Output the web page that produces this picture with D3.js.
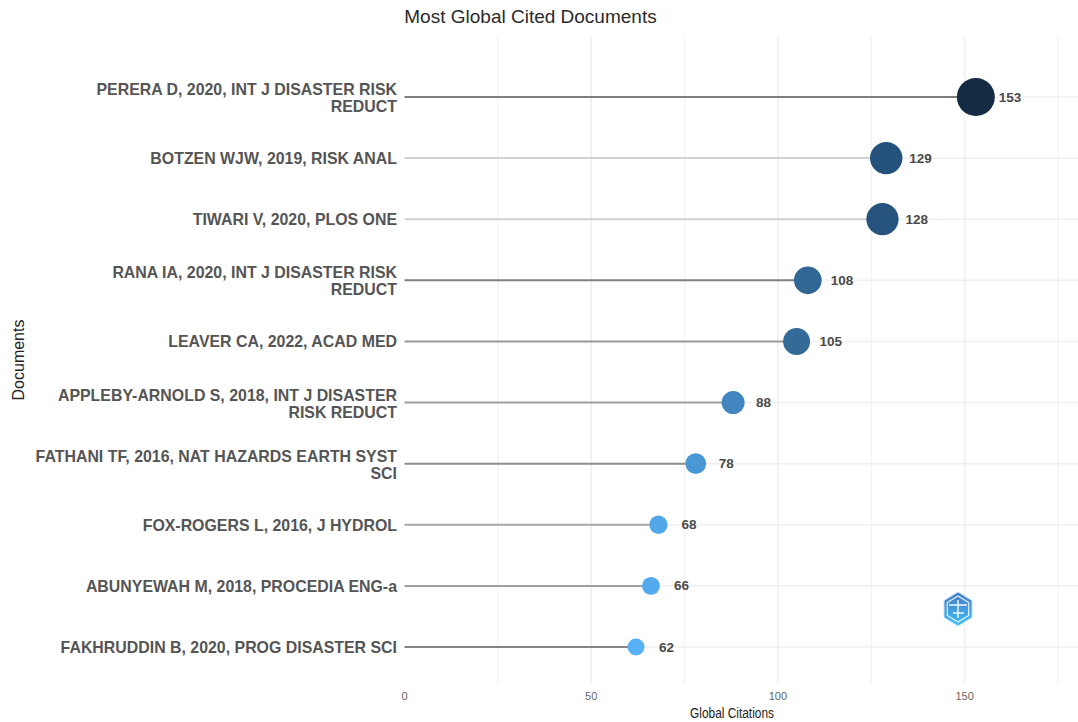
<!DOCTYPE html>
<html><head><meta charset="utf-8">
<script src="https://cdnjs.cloudflare.com/ajax/libs/d3/7.8.5/d3.min.js"></script>
<style>html,body{margin:0;padding:0;background:#fff}svg{display:block}text{font-family:"Liberation Sans",Arial,sans-serif}</style>
</head><body><svg id="c" width="1078" height="722"></svg>
<script>
const documents=[["PERERA D, 2020, INT J DISASTER RISK","REDUCT"],["BOTZEN WJW, 2019, RISK ANAL"],["TIWARI V, 2020, PLOS ONE"],["RANA IA, 2020, INT J DISASTER RISK","REDUCT"],["LEAVER CA, 2022, ACAD MED"],["APPLEBY-ARNOLD S, 2018, INT J DISASTER","RISK REDUCT"],["FATHANI TF, 2016, NAT HAZARDS EARTH SYST","SCI"],["FOX-ROGERS L, 2016, J HYDROL"],["ABUNYEWAH M, 2018, PROCEDIA ENG-a"],["FAKHRUDDIN B, 2020, PROG DISASTER SCI"]];
const citations=[153,129,128,108,105,88,78,68,66,62];
const xTicks=[0,50,100,150];
const xMinor=[25,75,125,175];
const svg=d3.select("#c");
const x=d3.scaleLinear().domain([0,175]).range([404.5,1058]);
const y=d3.scalePoint().domain(d3.range(documents.length)).range([97,647]);
const r=d3.scaleLinear().domain([62,153]).range([8.5,19]);
const col=d3.scaleLinear().domain([62,105,129,153]).range(["#56b1f7","#336a98","#24527c","#132b43"]);
const stemCol=["#7f7f7f","#d2d2d2","#d2d2d2","#808080","#9a9a9a","#a0a0a0","#8f8f8f","#a8a8a8","#a0a0a0","#858585"];
const gTop=36,gBot=683;
svg.selectAll(".gx").data(xTicks.slice(1).concat(xMinor)).join("line").attr("x1",d=>x(d)).attr("x2",d=>x(d)).attr("y1",gTop).attr("y2",gBot).attr("stroke","#f0f0f0").attr("stroke-width",d=>xMinor.includes(d)?1:1.6);
svg.selectAll(".gy").data(citations).join("line").attr("x1",405).attr("x2",1078).attr("y1",(d,i)=>y(i)).attr("y2",(d,i)=>y(i)).attr("stroke","#f0f0f0").attr("stroke-width",1.6);
svg.selectAll(".stem").data(citations).join("line").attr("x1",x(0)).attr("x2",d=>x(d)).attr("y1",(d,i)=>y(i)).attr("y2",(d,i)=>y(i)).attr("stroke",(d,i)=>stemCol[i]).attr("stroke-width",2);
svg.selectAll(".dot").data(citations).join("circle").attr("cx",d=>x(d)).attr("cy",(d,i)=>y(i)).attr("r",d=>r(d)).attr("fill",d=>col(d));
svg.selectAll(".val").data(citations).join("text").attr("x",d=>x(d)+23).attr("y",(d,i)=>y(i)+4.5).attr("font-size",13.5).attr("font-weight","bold").attr("fill","#4a4a4a").text(d=>d);
documents.forEach((lines,i)=>{
  const t=svg.append("text").attr("text-anchor","end").attr("font-size",15.9).attr("font-weight","bold").attr("fill","#555");
  const y0=y(i)+(lines.length>1?-2:6);
  lines.forEach((l,j)=>t.append("tspan").attr("x",397).attr("y",y0+j*17).text(l));
});
svg.selectAll(".tick").data(xTicks).join("text").attr("x",d=>x(d)).attr("y",700).attr("text-anchor","middle").attr("font-size",11).attr("fill","#666").text(d=>d);
svg.append("text").attr("x",530.5).attr("y",23).attr("text-anchor","middle").attr("font-size",19).attr("fill","#2a2a2a").text("Most Global Cited Documents");
svg.append("text").attr("x",732).attr("y",718).attr("text-anchor","middle").attr("font-size",14).attr("textLength",84).attr("lengthAdjust","spacingAndGlyphs").attr("fill","#222").text("Global Citations");
svg.append("text").attr("transform","translate(24,360) rotate(-90)").attr("text-anchor","middle").attr("font-size",16).attr("fill","#222").text("Documents");
const defs=svg.append("defs");
const g=defs.append("linearGradient").attr("id","hex").attr("x1",0).attr("y1",0).attr("x2",0).attr("y2",1);
g.append("stop").attr("offset","0").attr("stop-color","#4a78c8");
g.append("stop").attr("offset","1").attr("stop-color","#3fc0f5");
const hx=958,hy=609,hr=17;
const pts=d3.range(6).map(k=>{const a=Math.PI/3*k-Math.PI/2;return [hx+hr*Math.cos(a)*0.95,hy+hr*Math.sin(a)];});
svg.append("polygon").attr("points",pts.join(" ")).attr("fill","url(#hex)").attr("stroke","#bfe4fb").attr("stroke-width",1);
const inner=d3.range(6).map(k=>{const a=Math.PI/3*k-Math.PI/2;return [hx+13*Math.cos(a)*0.95,hy+13*Math.sin(a)];});
svg.append("polygon").attr("points",inner.join(" ")).attr("fill","none").attr("stroke","#e4f4ff").attr("stroke-width",1.2);
svg.append("path").attr("d",`M${hx-9} ${hy-4}H${hx+9}M${hx} ${hy-9}V${hy+9}M${hx-5} ${hy+4}H${hx+6}`).attr("fill","none").attr("stroke","#eef8ff").attr("stroke-width",1.5);
</script></body></html>
